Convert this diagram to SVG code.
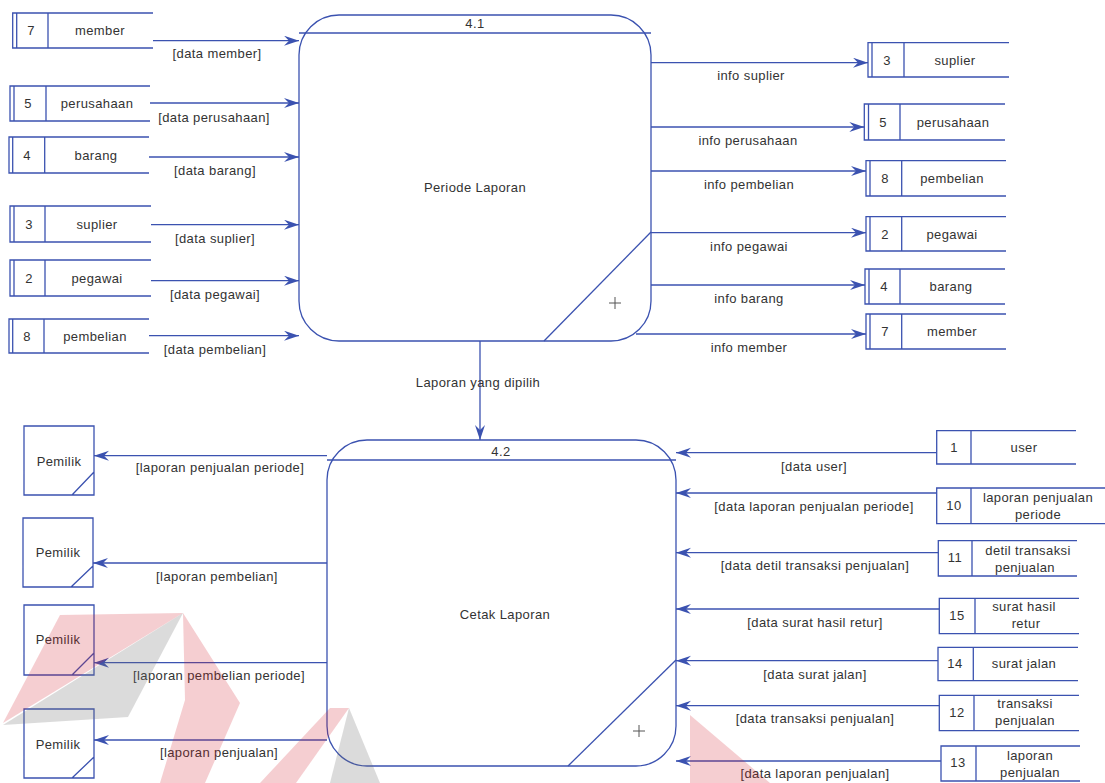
<svg xmlns="http://www.w3.org/2000/svg" width="1105" height="783" viewBox="0 0 1105 783">
<style>
.s{fill:none;stroke:#3B52B0;stroke-width:1.3}
.p{fill:#fff;stroke:#3B52B0;stroke-width:1.3}
.t{font-family:"Liberation Sans",Arial,sans-serif;font-size:13px;fill:#333;text-anchor:middle;letter-spacing:0.4px}
.c{fill:none;stroke:#3B52B0;stroke-width:1.3;marker-end:url(#a)}
.wr{fill:#d0202f;opacity:0.22}
.wg{fill:#707070;opacity:0.25}
</style>
<defs>
<marker id="a" markerUnits="userSpaceOnUse" markerWidth="16" markerHeight="12" refX="15" refY="5" orient="auto">
<path d="M0,0 L15,5 L0,10 L5,5 Z" fill="#3B52B0"/>
</marker>
</defs>
<rect width="1105" height="783" fill="#fff"/>

<g id="p41">
<rect class="p" x="299" y="15" width="352" height="326" rx="40" ry="40"/>
<line class="s" x1="299" y1="33" x2="651" y2="33"/>
<line class="s" x1="544" y1="341" x2="651" y2="232"/>
<text class="t" x="475" y="28">4.1</text>
<text class="t" x="475" y="192">Periode Laporan</text>
<path d="M609,303 h12 M615,297 v12" stroke="#555" stroke-width="1"/>
</g>
<g id="p42">
<rect class="p" x="327" y="440" width="349" height="326" rx="40" ry="40"/>
<line class="s" x1="327" y1="460" x2="676" y2="460"/>
<line class="s" x1="568" y1="766" x2="676" y2="660"/>
<text class="t" x="501" y="456">4.2</text>
<text class="t" x="505" y="619">Cetak Laporan</text>
<path d="M633,731 h12 M639,725 v12" stroke="#555" stroke-width="1"/>
</g>

<g id="ds-l7"><path class="s" d="M153,13 H12.7 V48 H153 M16.7,13 V48 M48,13 V48"/><text class="t" x="31" y="35">7</text><text class="t" x="100" y="35">member</text></g>
<g id="ds-l5"><path class="s" d="M150,86 H10 V121 H150 M14,86 V121 M46,86 V121"/><text class="t" x="28" y="108">5</text><text class="t" x="97" y="108">perusahaan</text></g>
<g id="ds-l4"><path class="s" d="M149,137 H9 V173 H149 M12.7,137 V173 M44.7,137 V173"/><text class="t" x="27" y="160">4</text><text class="t" x="96" y="160">barang</text></g>
<g id="ds-l3"><path class="s" d="M151,206 H10 V242 H151 M14,206 V242 M45,206 V242"/><text class="t" x="29" y="229">3</text><text class="t" x="97" y="229">suplier</text></g>
<g id="ds-l2"><path class="s" d="M151,260 H10 V296 H151 M14,260 V296 M45,260 V296"/><text class="t" x="29" y="283">2</text><text class="t" x="97" y="283">pegawai</text></g>
<g id="ds-l8"><path class="s" d="M149,319 H9 V353 H149 M12.7,319 V353 M44,319 V353"/><text class="t" x="27" y="341">8</text><text class="t" x="95" y="341">pembelian</text></g>

<g id="ds-r3"><path class="s" d="M1009,42.7 H868 V77 H1009 M872,42.7 V77 M904,42.7 V77"/><text class="t" x="887" y="65">3</text><text class="t" x="955" y="65">suplier</text></g>
<g id="ds-r5"><path class="s" d="M1005,104 H864.3 V140 H1005 M868.5,104 V140 M900,104 V140"/><text class="t" x="883" y="127">5</text><text class="t" x="953" y="127">perusahaan</text></g>
<g id="ds-r8"><path class="s" d="M1006,160.7 H866 V196 H1006 M870,160.7 V196 M901.7,160.7 V196"/><text class="t" x="885" y="183">8</text><text class="t" x="952" y="183">pembelian</text></g>
<g id="ds-r2"><path class="s" d="M1006,216.7 H866 V251 H1006 M870,216.7 V251 M901.7,216.7 V251"/><text class="t" x="885" y="239">2</text><text class="t" x="952" y="239">pegawai</text></g>
<g id="ds-r4"><path class="s" d="M1005,269 H865 V304 H1005 M869,269 V304 M900,269 V304"/><text class="t" x="884" y="291">4</text><text class="t" x="951" y="291">barang</text></g>
<g id="ds-r7"><path class="s" d="M1006,314 H866 V349 H1006 M870,314 V349 M901.7,314 V349"/><text class="t" x="885" y="336">7</text><text class="t" x="952" y="336">member</text></g>

<g id="ds-1"><path class="s" d="M1076,430.7 H936.7 V464 H1076 M971,430.7 V464"/><text class="t" x="954" y="452">1</text><text class="t" x="1024" y="452">user</text></g>
<g id="ds-10"><path class="s" d="M1105,488 H936.7 V523.7 H1105 M971,488 V523.7"/><text class="t" x="954" y="510">10</text><text class="t" x="1038" y="502">laporan penjualan</text><text class="t" x="1038" y="519">periode</text></g>
<g id="ds-11"><path class="s" d="M1077,540.7 H938.3 V576 H1077 M972,540.7 V576"/><text class="t" x="955" y="562">11</text><text class="t" x="1028" y="555">detil transaksi</text><text class="t" x="1025" y="572">penjualan</text></g>
<g id="ds-15"><path class="s" d="M1079,598.3 H939.3 V633.7 H1079 M975,598.3 V633.7"/><text class="t" x="957" y="620">15</text><text class="t" x="1024" y="611">surat hasil</text><text class="t" x="1026" y="628">retur</text></g>
<g id="ds-14"><path class="s" d="M1078,647.3 H938 V680.7 H1078 M973.3,647.3 V680.7"/><text class="t" x="955" y="668">14</text><text class="t" x="1024" y="668">surat jalan</text></g>
<g id="ds-12"><path class="s" d="M1079,695.3 H939.3 V730.7 H1079 M974,695.3 V730.7"/><text class="t" x="957" y="717">12</text><text class="t" x="1025" y="708">transaksi</text><text class="t" x="1025" y="725">penjualan</text></g>
<g id="ds-13"><path class="s" d="M1080,746 H941 V781 H1080 M976,746 V781"/><text class="t" x="958" y="767">13</text><text class="t" x="1030" y="760">laporan</text><text class="t" x="1030" y="777">penjualan</text></g>

<g id="e1"><path class="s" d="M24,426 H94 V495 H24 Z M94,472 L72,495"/><text class="t" x="59" y="466">Pemilik</text></g>
<g id="e2"><path class="s" d="M23,518 H93 V587 H23 Z M93,566 L71,587"/><text class="t" x="58" y="557">Pemilik</text></g>
<g id="e3"><path class="s" d="M24,605 H94 V675 H24 Z M94,653 L72,675"/><text class="t" x="58" y="644">Pemilik</text></g>
<g id="e4"><path class="s" d="M24,709 H94 V778 H24 Z M94,757 L72,778"/><text class="t" x="58" y="749">Pemilik</text></g>

<g id="connectors">
<line class="c" x1="153" y1="40.7" x2="299" y2="40.7"/>
<line class="c" x1="150" y1="103" x2="299" y2="103"/>
<line class="c" x1="149" y1="157" x2="299" y2="157"/>
<line class="c" x1="151" y1="224.7" x2="299" y2="224.7"/>
<line class="c" x1="151" y1="280.7" x2="299" y2="280.7"/>
<line class="c" x1="149" y1="335.7" x2="299" y2="335.7"/>
<line class="c" x1="651" y1="62.7" x2="868" y2="62.7"/>
<line class="c" x1="651" y1="127" x2="864.3" y2="127"/>
<line class="c" x1="651" y1="171" x2="866" y2="171"/>
<line class="c" x1="651" y1="232.7" x2="866" y2="232.7"/>
<line class="c" x1="651" y1="285" x2="865" y2="285"/>
<line class="c" x1="636" y1="334" x2="866" y2="334"/>
<line class="c" x1="480" y1="341" x2="480" y2="440"/>
<line class="c" x1="327" y1="455.7" x2="94" y2="455.7"/>
<line class="c" x1="327" y1="563" x2="93" y2="563"/>
<line class="c" x1="327" y1="662.7" x2="94" y2="662.7"/>
<line class="c" x1="327" y1="740" x2="94" y2="740"/>
<line class="c" x1="936.7" y1="452.7" x2="676" y2="452.7"/>
<line class="c" x1="936.7" y1="493" x2="676" y2="493"/>
<line class="c" x1="938.3" y1="552.7" x2="676" y2="552.7"/>
<line class="c" x1="939.3" y1="609" x2="676" y2="609"/>
<line class="c" x1="938" y1="660.7" x2="676" y2="660.7"/>
<line class="c" x1="939.3" y1="705.7" x2="676" y2="705.7"/>
<line class="c" x1="941" y1="761" x2="676" y2="761"/>
<text class="t" x="217" y="58">[data member]</text>
<text class="t" x="214" y="122">[data perusahaan]</text>
<text class="t" x="215" y="175">[data barang]</text>
<text class="t" x="215" y="243">[data suplier]</text>
<text class="t" x="215" y="299">[data pegawai]</text>
<text class="t" x="215" y="354">[data pembelian]</text>
<text class="t" x="751" y="80">info suplier</text>
<text class="t" x="748" y="145">info perusahaan</text>
<text class="t" x="749" y="189">info pembelian</text>
<text class="t" x="749" y="251">info pegawai</text>
<text class="t" x="749" y="303">info barang</text>
<text class="t" x="749" y="352">info member</text>
<text class="t" x="478" y="387">Laporan yang dipilih</text>
<text class="t" x="220" y="472">[laporan penjualan periode]</text>
<text class="t" x="217" y="581">[laporan pembelian]</text>
<text class="t" x="219" y="680">[laporan pembelian periode]</text>
<text class="t" x="219" y="757">[laporan penjualan]</text>
<text class="t" x="814" y="471">[data user]</text>
<text class="t" x="814" y="511">[data laporan penjualan periode]</text>
<text class="t" x="815" y="570">[data detil transaksi penjualan]</text>
<text class="t" x="815" y="627">[data surat hasil retur]</text>
<text class="t" x="815" y="679">[data surat jalan]</text>
<text class="t" x="815" y="723">[data transaksi penjualan]</text>
<text class="t" x="815" y="778">[data laporan penjualan]</text>
</g>

<g id="watermark">
<polygon class="wr" points="60,615 183,613 3,723"/>
<polygon class="wg" points="3,725 183,613 128,717"/>
<polygon class="wr" points="183,613 240,703 205,783 160,783 185,700"/>
<polygon class="wr" points="349,708 296,783 260,783 330,708"/>
<polygon class="wg" points="349,708 380,783 330,783"/>
<polygon class="wr" points="690,715 770,783 690,783"/>
</g>
</svg>
